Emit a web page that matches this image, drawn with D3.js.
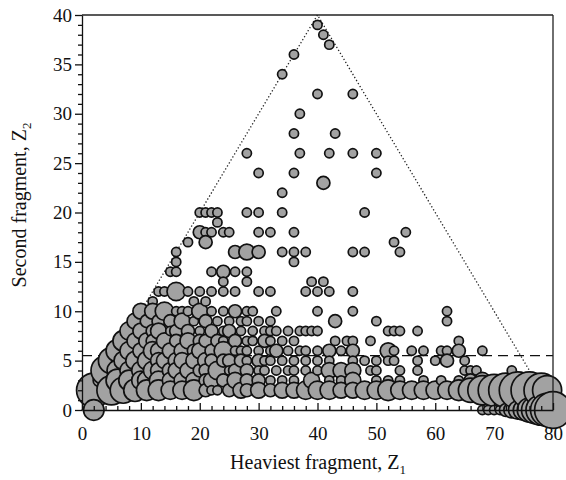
<!DOCTYPE html>
<html>
<head>
<meta charset="utf-8">
<script src="https://cdn.jsdelivr.net/npm/d3@7"></script>
<style>
  html, body { margin: 0; padding: 0; background: #fff; }
  svg { display: block; }
</style>
</head>
<body>
<svg id="chart" width="566" height="480"></svg>
<script>
// ---- Data: [Z1, Z2, relative yield] ----
const upperEvents = [
  [40,39,1],[41,38,1],[42,37,1],[36,36,1],[34,34,1],[40,32,1],[46,32,1],[37,30,1],[36,28,1],[43,28,1],
  [28,26,1],[37,26,1],[42,26,1],[46,26,1],[50,26,1],[30,24,1],[36,24,1],[50,24,1],[41,23,2],[34,22,1],
  [20,20,1],[21,20,1],[22,20,1],[23,20,1],[28,20,1],[30,20,1],[34,20,1],[48,20,1],[23,19,1],
  [20,18,2],[21,18,1],[22,18,1],[24,18,1],[25,18,1],[30,18,1],[32,18,1],[36,18,1],[55,18,1],
  [18,17,1],[21,17,2],[53,17,1],
  [16,16,1],[26,16,2],[28,16,3],[30,16,2],[34,16,1],[36,16,1],[38,16,1],[46,16,1],[48,16,1],[54,16,1],
  [16,15,1],[36,15,1],
  [15,14,1],[16,14,1],[22,14,1],[24,14,2],[26,14,1],[28,14,1],
  [24,13,1],[28,13,1],[39,13,1],[41,13,1],
  [13,12,1],[14,12,1],[16,12,4],[18,12,1],[20,12,1],[22,12,1],[24,12,1],[26,12,1],[30,12,1],[32,12,1],
  [38,12,1],[40,12,1],[42,12,1],[46,12,1],
  [12,11,1],[19,11,1],[21,11,1]
];
const middleEvents = [
  [10,10,3],[12,10,3],[14,10,4],[16,10,1],[17,10,1],[18,10,1],[20,10,3],[22,10,1],[24,10,1],[26,10,2],
  [28,10,1],[29,10,1],[33,10,1],[40,10,1],[46,10,1],[62,10,1],
  [9,9,3],[11,9,2],[13,9,2],[15,9,2],[17,9,3],[19,9,1],[21,9,2],[23,9,1],[25,9,1],[27,9,1],[28,9,1],
  [30,9,1],[32,9,1],[43,9,2],[50,9,1],[62,9,1],
  [8,8,4],[10,8,3],[12,8,2],[13,8,3],[15,8,1],[16,8,2],[18,8,2],[20,8,1],[22,8,2],[24,8,1],[25,8,2],
  [27,8,1],[29,8,1],[31,8,1],[32,8,1],[33,8,1],[35,8,1],[37,8,1],[38,8,1],[39,8,1],[40,8,1],
  [52,8,1],[53,8,1],[54,8,1],[57,8,1],
  [7,7,5],[9,7,3],[11,7,3],[12,7,2],[14,7,3],[16,7,2],[18,7,3],[20,7,2],[21,7,2],[23,7,2],[24,7,1],
  [26,7,2],[28,7,1],[29,7,1],[31,7,2],[32,7,1],[34,7,1],[36,7,1],[43,7,1],[45,7,1],[46,7,1],[49,7,1],[64,7,1],
  [6,6,6],[8,6,4],[10,6,3],[12,6,4],[13,6,3],[15,6,3],[17,6,3],[19,6,2],[20,6,3],[22,6,2],[24,6,4],
  [26,6,1],[27,6,1],[28,6,1],[30,6,1],[32,6,1],[33,6,2],[35,6,1],[37,6,1],[38,6,1],[40,6,1],[42,6,2],
  [44,6,1],[46,6,2],[52,6,3],[53,6,1],[56,6,1],[58,6,1],[61,6,1],[62,6,1],[64,6,2],[68,6,1],
  [5,5,8],[7,5,4],[9,5,4],[11,5,4],[13,5,3],[14,5,3],[16,5,3],[17,5,3],[19,5,3],[21,5,3],[22,5,2],
  [24,5,2],[25,5,2],[27,5,2],[28,5,1],[30,5,2],[31,5,1],[32,5,1],[34,5,1],[36,5,1],[38,5,1],[40,5,1],
  [42,5,1],[46,5,1],[48,5,1],[50,5,1],[52,5,1],[53,5,1],[57,5,1],[60,5,1],[62,5,2],[65,5,1]
];
const lowerEvents = [
  [4,4,10],[6,4,5],[8,4,4],[10,4,4],[12,4,4],[13,4,3],[15,4,3],[16,4,3],[18,4,3],[20,4,2],[21,4,2],
  [23,4,4],[25,4,1],[26,4,2],[28,4,2],[30,4,1],[31,4,1],[33,4,1],[35,4,1],[36,4,1],[38,4,1],[40,4,1],
  [42,4,3],[44,4,3],[46,4,3],[49,4,1],[50,4,1],[54,4,1],[57,4,1],[65,4,1],[66,4,1],[67,4,1],[73,4,1],
  [3,3,2],[6,3,6],[8,3,5],[10,3,4],[11,3,4],[13,3,4],[15,3,3],[17,3,3],[19,3,3],[21,3,2],[22,3,3],
  [24,3,2],[26,3,3],[28,3,2],[30,3,2],[32,3,1],[34,3,1],[36,3,1],[39,3,3],[42,3,1],[44,3,1],[46,3,3],
  [50,3,1],[52,3,1],[54,3,1],[58,3,1],[61,3,1],[64,3,1],[66,3,2],[68,3,3],
  [2,2,14],[5,2,10],[7,2,8],[9,2,6],[11,2,5],[13,2,5],[15,2,4],[17,2,4],[19,2,5],[21,2,2],[22,2,1],
  [23,2,1],[25,2,2],[27,2,3],[28,2,2],[30,2,3],[32,2,2],[34,2,3],[36,2,3],[38,2,4],[40,2,4],[42,2,4],
  [44,2,3],[46,2,3],[48,2,4],[50,2,4],[52,2,5],[54,2,4],[56,2,4],[58,2,4],[60,2,4],[62,2,4],[64,2,5],
  [66,2,7],[68,2,10],[70,2,12],[72,2,14],[74,2,16],[76,2,16],[78,2,14],[79,2,10],
  [2,0,5],[68,0,1],[69,0,1],[70,0,1],[71,0,1],[72,0,2],[73,0,3],[74,0,4],[75,0,5],[76,0,7],[77,0,9],
  [78,0,11],[79,0,13],[80,0,16]
];
const xTicks = [0,10,20,30,40,50,60,70,80];
const yTicks = [0,5,10,15,20,25,30,35,40];
const dashedLevel = [5.5];

// ---- Layout ----
const svg = d3.select("#chart");
const x = d3.scaleLinear().domain([0, 80]).range([82, 553]);
const y = d3.scaleLinear().domain([0, 40]).range([410, 15]);
const r = d3.scaleSqrt().domain([0, 1]).range([0, 4.6]);
const font = "'Liberation Serif', 'Times New Roman', serif";

// guide lines (beneath markers)
svg.append("path")
  .attr("d", d3.line().x(d => x(d[0])).y(d => y(d[1]))([[0,0],[40,40],[80,0]]))
  .attr("fill", "none").attr("stroke", "#222").attr("stroke-width", 1.3)
  .attr("stroke-dasharray", "1.3,2.2");
svg.selectAll(".dash").data(dashedLevel).join("line")
  .attr("x1", x(0)).attr("x2", x(80)).attr("y1", d => y(d)).attr("y2", d => y(d))
  .attr("stroke", "#111").attr("stroke-width", 1.3).attr("stroke-dasharray", "10,6");

// markers (plotted in order of Z1, then Z2 downwards)
const events = upperEvents.concat(middleEvents, lowerEvents)
  .slice().sort((a, b) => a[0] - b[0] || b[1] - a[1]);
svg.append("g").selectAll("circle").data(events).join("circle")
  .attr("cx", d => x(d[0])).attr("cy", d => y(d[1])).attr("r", d => r(d[2]))
  .attr("fill", "#a2a2a2").attr("stroke", "#111").attr("stroke-width", 1.7);

// frame
svg.append("line").attr("x1", x(0)).attr("x2", x(80)).attr("y1", y(40)).attr("y2", y(40))
  .attr("stroke", "#222").attr("stroke-width", 1.3);
svg.append("line").attr("x1", x(80)).attr("x2", x(80)).attr("y1", y(40)).attr("y2", y(0))
  .attr("stroke", "#222").attr("stroke-width", 1.3);

// x axis
const xMinor = d3.range(0, 81, 2).filter(v => v % 10 !== 0);
const gx = svg.append("g").attr("transform", `translate(0,${y(0)})`);
gx.call(d3.axisBottom(x).tickValues(xTicks).tickSize(-7).tickSizeOuter(0).tickPadding(17));
gx.append("g").call(d3.axisBottom(x).tickValues(xMinor).tickSize(-4).tickFormat(""))
  .select(".domain").remove();
gx.selectAll("text").attr("font-family", font).attr("font-size", 19).attr("fill", "#111");
gx.selectAll("line, path").attr("stroke", "#111").attr("stroke-width", 1.3);

// y axis
const yMinor = d3.range(0, 41, 1).filter(v => v % 5 !== 0);
const gy = svg.append("g").attr("transform", `translate(${x(0)},0)`);
gy.call(d3.axisLeft(y).tickValues(yTicks).tickSize(7).tickSizeOuter(0).tickPadding(3));
gy.append("g").call(d3.axisLeft(y).tickValues(yMinor).tickSize(4).tickFormat(""))
  .select(".domain").remove();
gy.selectAll("text").attr("font-family", font).attr("font-size", 19).attr("fill", "#111");
gy.selectAll("line, path").attr("stroke", "#111").attr("stroke-width", 1.3);

// titles
const xt = svg.append("text").attr("x", 318).attr("y", 469).attr("text-anchor", "middle")
  .attr("font-family", font).attr("font-size", 20).attr("fill", "#111");
xt.append("tspan").text("Heaviest fragment, Z");
xt.append("tspan").attr("font-size", 13).attr("dy", 5).text("1");

const yt = svg.append("text").attr("transform", "translate(26,205) rotate(-90)")
  .attr("text-anchor", "middle").attr("font-family", font).attr("font-size", 20).attr("fill", "#111");
yt.append("tspan").text("Second fragment, Z");
yt.append("tspan").attr("font-size", 13).attr("dy", 5).text("2");
</script>
</body>
</html>
